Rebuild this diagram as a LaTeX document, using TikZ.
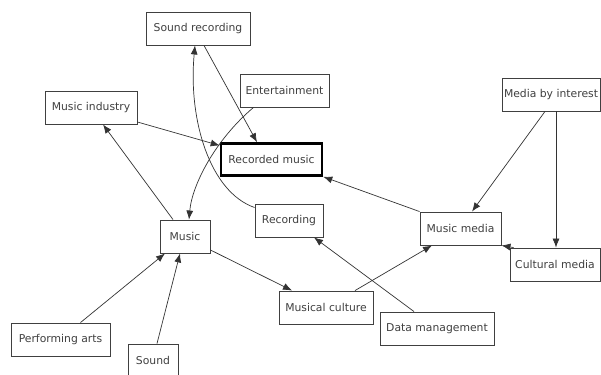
\documentclass[tikz,border=0pt]{standalone}
\usepackage{fontspec}
\setmainfont{DejaVu Sans}
\usetikzlibrary{arrows.meta}
\begin{document}
\begin{tikzpicture}[x=1pt,y=-1pt,
  box/.style={draw=black!75,line width=0.9pt,fill=white,inner sep=0pt,minimum height=33pt,font=\fontsize{10.8}{12}\selectfont,text=black!75},
  arr/.style={line width=0.7pt,draw=black!80,-{Latex[length=9pt,width=7pt]}}]
\useasboundingbox (0,0) rectangle (601,374);
\fill[white] (0,0) rectangle (601,374);
\node[box,minimum width=104pt] (sr) at (198,28.5) {Sound recording};
\node[box,minimum width=89pt] (ent) at (284.5,90.5) {Entertainment};
\node[box,minimum width=92pt] (mi) at (91,107.5) {Music industry};
\node[box,minimum width=101pt,line width=2.6pt,draw=black,minimum height=32pt] (rm) at (271.5,159.5) {Recorded music};
\node[box,minimum width=98pt] (mbi) at (551,94.5) {Media by interest};
\node[box,minimum width=50pt] (mu) at (185,236.5) {Music};
\node[box,minimum width=68pt] (rec) at (289,220.5) {Recording};
\node[box,minimum width=99pt] (pa) at (60.5,339.5) {Performing arts};
\node[box,minimum width=50pt] (so) at (153,360.5) {Sound};
\node[box,minimum width=94pt] (mc) at (326,307.5) {Musical culture};
\node[box,minimum width=114pt] (dm) at (437,328.5) {Data management};
\node[box,minimum width=81pt] (mm) at (460.5,228.5) {Music media};
\node[box,minimum width=90pt] (cm) at (555,264.5) {Cultural media};

\draw[arr] ([xshift=6pt]sr.south) -- ([xshift=-14.5pt]rm.north);
\draw[arr] ([yshift=13pt]rec.west) .. controls (210,192) and (188,120) .. ([xshift=-3pt]sr.south);
\draw[arr] ([xshift=-31pt]ent.south) .. controls (215,140) and (192,185) .. ([xshift=4pt]mu.north);
\draw[arr] ([yshift=-14.5pt]mi.east) -- ([yshift=14pt]rm.west);
\draw[arr] ([xshift=-12pt]mu.north) -- ([xshift=12pt]mi.south);
\draw[arr] (mm.north west) -- (rm.south east);
\draw[arr] ([xshift=-6pt]mbi.south) -- ([xshift=11.5pt]mm.north);
\draw[arr] ([xshift=5pt]mbi.south) -- ([xshift=1pt]cm.north);
\draw[arr] ([xshift=4pt]cm.north west) -- (mm.south east);
\draw[arr] ([yshift=-13.5pt]mu.east) -- ([xshift=-34pt]mc.north);
\draw[arr] ([xshift=29pt]mc.north) -- ([xshift=-28.5pt]mm.south);
\draw[arr] ([xshift=-23pt]dm.north) -- ([xshift=25pt]rec.south);
\draw[arr] ([xshift=20pt]pa.north) -- ([xshift=-20pt]mu.south);
\draw[arr] ([xshift=4pt]so.north) -- ([xshift=-5pt]mu.south);
\end{tikzpicture}
\end{document}
